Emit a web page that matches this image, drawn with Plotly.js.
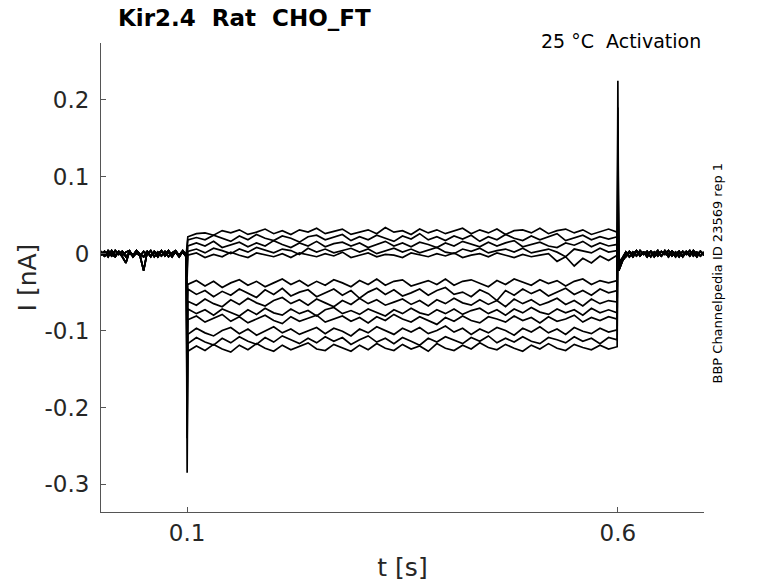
<!DOCTYPE html>
<html>
<head>
<meta charset="utf-8">
<script src="https://cdn.plot.ly/plotly-3.0.1.min.js"></script>
<style>
  html, body { margin: 0; padding: 0; background: #fff; }
  #chart { width: 778px; height: 583px; }
</style>
</head>
<body>
<div id="chart"></div>
<script>
// Current traces (nA), step from 0.1 s to 0.6 s
// sampled every 10 ms during the step
var stepStart = 0.1;
var stepEnd = 0.6;

var traceA = [0.022,0.026,0.027,0.024,0.030,0.027,0.031,0.025,0.028,0.032,
  0.026,0.030,0.025,0.031,0.028,0.033,0.026,0.029,0.032,0.025,
  0.028,0.031,0.026,0.034,0.028,0.030,0.025,0.032,0.027,0.031,
  0.026,0.029,0.033,0.026,0.031,0.027,0.032,0.025,0.030,0.031,
  0.027,0.033,0.026,0.030,0.032,0.027,0.031,0.025,0.029,0.032,0.028];
var traceB = [0.018,0.021,0.018,0.024,0.020,0.016,0.023,0.018,0.025,0.020,
  0.017,0.023,0.020,0.015,0.022,0.024,0.018,0.021,0.025,0.017,
  0.022,0.018,0.024,0.020,0.016,0.023,0.019,0.026,0.018,0.022,
  0.017,0.023,0.019,0.024,0.016,0.022,0.018,0.025,0.020,0.017,
  0.023,0.018,0.022,0.026,0.017,0.021,0.024,0.018,0.022,0.019,0.022];
var traceC = [0.010,0.014,0.010,0.016,0.008,0.012,0.015,0.009,0.014,0.010,
  0.017,0.012,0.008,0.014,0.010,0.016,0.009,0.013,0.015,0.010,
  0.014,0.008,0.012,0.016,0.010,0.014,0.009,0.015,0.012,0.008,
  0.014,0.010,0.016,0.012,0.009,0.015,0.010,0.014,0.017,0.009,
  0.012,0.015,0.010,0.008,0.014,0.011,0.016,0.009,0.014,0.010,0.012];
var traceD = [0.003,0.006,0.001,0.007,0.004,0.000,0.006,0.002,0.008,0.004,
  0.001,0.006,0.004,-0.001,0.007,0.002,0.006,0.001,0.004,0.007,
  0.002,0.006,0.000,0.004,0.007,0.002,0.006,0.001,0.004,0.008,
  0.002,0.000,0.006,0.003,0.007,0.001,0.004,0.006,0.002,0.007,
  0.001,0.004,0.006,0.002,-0.004,0.006,0.003,0.001,0.007,0.002,0.004];
var traceE = [-0.002,0.001,-0.005,-0.001,-0.004,0.002,-0.002,-0.005,0.001,-0.002,
  -0.004,0.000,-0.005,0.001,-0.002,-0.004,0.000,-0.003,0.002,-0.005,
  -0.002,0.001,-0.004,-0.001,-0.002,-0.005,0.001,-0.002,-0.004,0.000,
  -0.003,0.001,-0.005,-0.002,0.000,-0.004,0.001,-0.002,-0.005,-0.001,
  -0.004,-0.002,0.000,-0.010,-0.004,-0.016,-0.006,-0.012,-0.003,-0.009,-0.002];
var traceF = [-0.040,-0.035,-0.042,-0.036,-0.044,-0.038,-0.034,-0.041,-0.036,-0.043,
  -0.038,-0.033,-0.040,-0.035,-0.042,-0.036,-0.041,-0.034,-0.038,-0.043,
  -0.035,-0.040,-0.033,-0.041,-0.036,-0.034,-0.042,-0.038,-0.035,-0.040,
  -0.033,-0.041,-0.036,-0.034,-0.039,-0.043,-0.035,-0.040,-0.033,-0.037,
  -0.041,-0.034,-0.039,-0.035,-0.042,-0.036,-0.033,-0.040,-0.035,-0.038,-0.035];
var traceG = [-0.046,-0.053,-0.048,-0.056,-0.049,-0.054,-0.046,-0.052,-0.057,-0.047,
  -0.053,-0.045,-0.055,-0.050,-0.047,-0.056,-0.051,-0.046,-0.054,-0.048,
  -0.058,-0.050,-0.045,-0.053,-0.047,-0.055,-0.051,-0.046,-0.054,-0.048,
  -0.044,-0.053,-0.050,-0.056,-0.047,-0.052,-0.061,-0.048,-0.054,-0.046,
  -0.052,-0.047,-0.055,-0.050,-0.045,-0.053,-0.048,-0.054,-0.046,-0.051,-0.048];
var traceH = [-0.062,-0.067,-0.059,-0.065,-0.069,-0.060,-0.066,-0.058,-0.064,-0.068,
  -0.061,-0.057,-0.065,-0.060,-0.067,-0.059,-0.064,-0.069,-0.061,-0.066,
  -0.058,-0.065,-0.060,-0.067,-0.063,-0.059,-0.066,-0.061,-0.068,-0.060,
  -0.065,-0.058,-0.064,-0.067,-0.060,-0.066,-0.061,-0.069,-0.059,-0.065,
  -0.060,-0.067,-0.063,-0.058,-0.066,-0.061,-0.068,-0.059,-0.065,-0.061,-0.063];
var traceI = [-0.072,-0.078,-0.073,-0.080,-0.072,-0.077,-0.081,-0.073,-0.079,-0.071,
  -0.077,-0.080,-0.072,-0.078,-0.074,-0.081,-0.073,-0.070,-0.078,-0.074,
  -0.079,-0.072,-0.077,-0.081,-0.073,-0.078,-0.071,-0.077,-0.080,-0.073,
  -0.078,-0.072,-0.079,-0.074,-0.071,-0.078,-0.073,-0.080,-0.072,-0.077,
  -0.070,-0.076,-0.079,-0.072,-0.077,-0.073,-0.080,-0.071,-0.077,-0.073,-0.077];
var traceJ = [-0.086,-0.081,-0.089,-0.084,-0.079,-0.088,-0.082,-0.090,-0.085,-0.080,
  -0.087,-0.091,-0.082,-0.088,-0.084,-0.080,-0.089,-0.085,-0.081,-0.088,
  -0.083,-0.090,-0.082,-0.087,-0.079,-0.085,-0.089,-0.082,-0.087,-0.092,
  -0.083,-0.088,-0.081,-0.087,-0.090,-0.082,-0.085,-0.089,-0.081,-0.087,
  -0.083,-0.090,-0.082,-0.088,-0.085,-0.080,-0.089,-0.083,-0.087,-0.082,-0.085];
var traceK = [-0.105,-0.097,-0.103,-0.107,-0.100,-0.096,-0.104,-0.098,-0.106,-0.101,
  -0.095,-0.103,-0.098,-0.105,-0.100,-0.096,-0.104,-0.097,-0.101,-0.107,
  -0.098,-0.103,-0.095,-0.100,-0.105,-0.097,-0.102,-0.096,-0.104,-0.100,
  -0.094,-0.102,-0.097,-0.105,-0.098,-0.103,-0.096,-0.100,-0.106,-0.097,
  -0.102,-0.095,-0.103,-0.098,-0.105,-0.096,-0.101,-0.104,-0.097,-0.102,-0.099];
var traceL = [-0.117,-0.109,-0.115,-0.119,-0.110,-0.116,-0.108,-0.114,-0.118,-0.109,
  -0.115,-0.107,-0.112,-0.117,-0.110,-0.116,-0.108,-0.114,-0.109,-0.118,
  -0.112,-0.107,-0.115,-0.110,-0.117,-0.109,-0.114,-0.119,-0.110,-0.115,
  -0.108,-0.112,-0.117,-0.109,-0.114,-0.107,-0.116,-0.110,-0.115,-0.108,
  -0.114,-0.117,-0.109,-0.112,-0.116,-0.108,-0.114,-0.110,-0.117,-0.109,-0.112];
var traceM = [-0.127,-0.120,-0.126,-0.118,-0.124,-0.128,-0.119,-0.125,-0.117,-0.123,
  -0.127,-0.119,-0.125,-0.120,-0.116,-0.124,-0.126,-0.118,-0.123,-0.127,
  -0.119,-0.125,-0.117,-0.123,-0.126,-0.118,-0.124,-0.120,-0.127,-0.117,
  -0.123,-0.126,-0.119,-0.124,-0.116,-0.122,-0.125,-0.118,-0.123,-0.127,
  -0.119,-0.124,-0.117,-0.123,-0.126,-0.118,-0.122,-0.125,-0.119,-0.124,-0.121];

var stepTraces = [traceA, traceB, traceC, traceD, traceE, traceF, traceG,
  traceH, traceI, traceJ, traceK, traceL, traceM];

// capacitive transients at step on / off
var onSpikes  = [0.010, 0.005, -0.010, -0.020, -0.030, -0.080, -0.100,
  -0.130, -0.150, -0.180, -0.210, -0.240, -0.285];
var offSpikes = [0.010, 0.010, 0.015, 0.020, 0.025, 0.050, 0.070,
  0.090, 0.110, 0.130, 0.160, 0.190, 0.225];

// holding current before the step (0 - 0.1 s, every 4 ms)
var preBase1 = [0.003,-0.003,0.002,-0.003,0.004,-0.001,0.003,-0.004,0.001,-0.003,
  0.004,-0.001,-0.004,0.003,-0.003,0.002,-0.004,0.003,-0.001,0.004,-0.003,0.002,-0.004,0.003,-0.001];
var preBase2 = [-0.002,0.003,-0.004,0.004,-0.002,0.002,-0.004,-0.012,0.003,-0.002,
  0.004,-0.003,-0.022,0.002,-0.004,0.003,-0.001,0.004,-0.003,0.002,-0.004,0.003,-0.002,0.004,-0.003];
var preBase3 = [0.001,-0.003,0.004,-0.001,-0.004,0.003,-0.002,0.002,0.004,-0.004,
  0.001,-0.003,0.003,-0.001,0.004,-0.004,0.002,-0.003,0.003,-0.004,0.001,0.004,-0.003,0.002,-0.004];
var preBases = [preBase1, preBase2, preBase3];

// holding current after the step (0.6 - 0.7 s, every 4 ms)
var postBase1 = [-0.018,-0.008,-0.004,0.002,-0.004,0.003,-0.002,0.002,-0.004,0.003,
  -0.001,0.004,-0.003,0.002,-0.004,0.003,-0.001,0.003,-0.004,0.002,-0.003,0.004,-0.001,0.003,-0.002];
var postBase2 = [-0.012,-0.006,0.002,-0.004,0.002,-0.003,0.004,-0.001,0.003,-0.004,
  0.002,-0.003,0.003,-0.001,0.004,-0.003,0.002,-0.004,0.003,-0.001,0.004,-0.003,0.002,-0.003,0.002];
var postBase3 = [-0.022,-0.010,-0.002,0.003,-0.001,0.004,-0.003,0.002,-0.001,0.003,
  -0.004,0.002,-0.003,0.004,-0.001,0.003,-0.004,0.002,-0.003,0.003,-0.001,0.002,-0.004,0.003,-0.001];
var postBases = [postBase1, postBase2, postBase3];

var yTickVals = [0.2, 0.1, 0, -0.1, -0.2, -0.3];
var yTickText = ['0.2', '0.1', '0', '-0.1', '-0.2', '-0.3'];
var xTickVals = [0.1, 0.6];
var xTickText = ['0.1', '0.6'];

var data = [];
for (var k = 0; k < stepTraces.length; k++) {
  var xs = [];
  var ys = [];
  var pre = preBases[k % 3];
  for (var i = 0; i < pre.length; i++) {
    xs.push(i * (stepStart - 0.001) / (pre.length - 1));
    ys.push(pre[i]);
  }
  xs.push(stepStart);
  ys.push(onSpikes[k]);
  var st = stepTraces[k];
  for (var i = 0; i < st.length; i++) {
    xs.push(stepStart + 0.0008 + i * (stepEnd - stepStart - 0.0016) / (st.length - 1));
    ys.push(st[i]);
  }
  xs.push(stepEnd);
  ys.push(offSpikes[k]);
  var post = postBases[k % 3];
  for (var i = 0; i < post.length; i++) {
    xs.push(stepEnd + 0.001 + i * (0.7 - stepEnd - 0.001) / (post.length - 1));
    ys.push(post[i]);
  }
  data.push({
    x: xs, y: ys, type: 'scatter', mode: 'lines',
    line: {color: '#000', width: 1.7},
    hoverinfo: 'skip', showlegend: false
  });
}

var axisCol = '#555';
var txtCol = '#262626';
var layout = {
  width: 778, height: 583,
  margin: {l: 101, r: 74, t: 43, b: 71},
  paper_bgcolor: '#fff', plot_bgcolor: '#fff',
  font: {family: 'DejaVu Sans', color: txtCol},
  showlegend: false,
  xaxis: {
    range: [0, 0.7],
    tickvals: xTickVals, ticktext: xTickText,
    ticks: 'inside', ticklen: 5, tickcolor: axisCol,
    showline: true, linecolor: axisCol, linewidth: 1,
    showgrid: false, zeroline: false,
    ticklabelstandoff: 0,
    tickfont: {size: 23, color: txtCol},
    title: {text: 't [s]', font: {size: 25, color: txtCol}, standoff: 13}
  },
  yaxis: {
    range: [-0.336, 0.274],
    tickvals: yTickVals, ticktext: yTickText,
    ticks: 'inside', ticklen: 5, tickcolor: axisCol,
    showline: true, linecolor: axisCol, linewidth: 1,
    showgrid: false, zeroline: false,
    ticklabelstandoff: 6,
    tickfont: {size: 23, color: txtCol},
    title: {text: 'I [nA]', font: {size: 25, color: txtCol}, standoff: 0}
  },
  annotations: [
    {text: '<b>Kir2.4  Rat  CHO_FT</b>', xref: 'paper', yref: 'paper',
     x: 0.025, y: 1.0, xanchor: 'left', yanchor: 'middle', yshift: 25,
     showarrow: false, font: {size: 23, color: '#000'}},
    {text: '25 °C  Activation', xref: 'paper', yref: 'paper',
     x: 1.0, y: 1.0, xanchor: 'right', yanchor: 'middle', yshift: 2, xshift: -1,
     showarrow: false, font: {size: 19, color: '#000'}},
    {text: 'BBP Channelpedia ID 23569 rep 1', xref: 'paper', yref: 'paper',
     x: 1.0, y: 0.5, xanchor: 'center', yanchor: 'middle', xshift: 13, yshift: 4,
     textangle: -90, showarrow: false, font: {size: 13, color: '#000'}}
  ]
};

Plotly.newPlot('chart', data, layout, {displayModeBar: false, staticPlot: true});
</script>
</body>
</html>
